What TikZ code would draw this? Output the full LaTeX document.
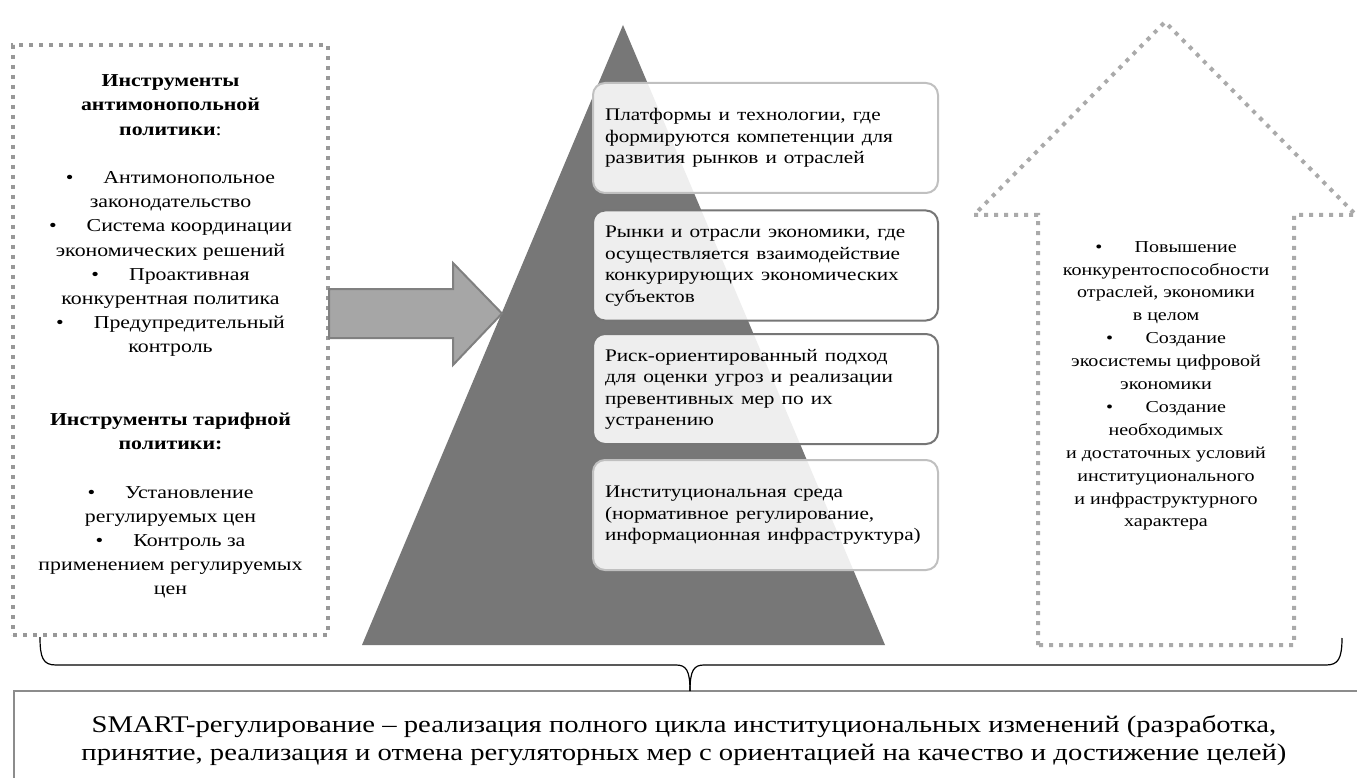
\documentclass[tikz,border=0pt]{standalone}
\usepackage{fontspec}
\usepackage{graphicx}
\setmainfont{Liberation Serif}
\definecolor{dotgray}{RGB}{152,152,152}
\definecolor{dotlight}{RGB}{170,170,170}
\definecolor{pyr}{RGB}{119,119,119}
\definecolor{arrfill}{RGB}{166,166,166}
\definecolor{arrdraw}{RGB}{128,128,128}
\definecolor{lightbd}{RGB}{192,192,192}
\definecolor{darkbd}{RGB}{118,118,118}
\definecolor{boxline}{RGB}{140,140,140}
\tikzset{
  dotline/.style={line width=4pt, dash pattern=on 4pt off 6pt},
  lbox/.style={draw=dotgray, dotline, minimum width=315pt, minimum height=590pt,
    inner sep=0pt},
  ltext/.style={inner sep=0pt, font=\fontsize{18.2}{24.2}\selectfont},
  pbox/.style={rounded corners=12pt, line width=2pt, fill=white, fill opacity=0.88,
    text opacity=1, minimum width=345pt, minimum height=110pt, text width=321pt,
    inner xsep=12pt, inner ysep=0pt, align=left,
    font=\fontsize{17.7}{21.5}\selectfont},
  rtext/.style={inner sep=0pt, font=\fontsize{16.7}{22.9}\selectfont},
  stext/.style={inner sep=0pt, font=\fontsize{23.9}{28}\selectfont},
  bigarrow/.style={fill=arrfill, draw=arrdraw, line width=2pt, line join=miter},
  bracestyle/.style={draw=black, line width=1.2pt}
}
\newcommand{\wc}[1]{\scalebox{1.2}[1]{\begin{tabular}{@{}c@{}}#1\end{tabular}}}
\newcommand{\wl}[1]{\scalebox{1.2}[1]{\begin{tabular}{@{}l@{}}#1\end{tabular}}}
\newcommand{\bul}[1][25pt]{\textbullet\hspace{#1}}
\begin{document}
\begin{tikzpicture}[x=1pt,y=-1pt]
\useasboundingbox (0,0) rectangle (1357,778);
\clip (0,0) rectangle (1357,778);
\fill[white] (0,0) rectangle (1357,778);

% pyramid
\coordinate (apex) at (623,25);
\coordinate (bl) at (362,645);
\coordinate (br) at (885,645);
\fill[pyr] (apex) -- (br) -- (bl) -- cycle;

% left box
\node[lbox] (lbox) at (170.5,340) {};
\node[ltext] (ltxt) at (170.5,336) {\wc{%
\textbf{Инструменты}\\
\textbf{антимонопольной}\\
\textbf{политики}:\\[24.2pt]
\bul Антимонопольное\\
законодательство\\
\bul Система координации\\
экономических решений\\
\bul Проактивная\\
конкурентная политика\\
\bul Предупредительный\\
контроль\\[48.4pt]
\textbf{Инструменты тарифной}\\
\textbf{политики:}\\[24.2pt]
\bul Установление\\
регулируемых цен\\
\bul Контроль за\\
применением регулируемых\\
цен}};

% block arrow from left box to pyramid
\draw[bigarrow] (329,289) -- (453,289) -- (453,263) -- (502,313.5)
  -- (453,365) -- (453,338) -- (329,338) -- cycle;

% pyramid boxes
\node[pbox, draw=lightbd] (b1) at (765.5,138) {\wl{Платформы и технологии, где\\формируются компетенции для\\развития рынков и отраслей}};
\node[pbox, draw=darkbd] (b2) at (765.5,265.5) {\wl{Рынки и отрасли экономики, где\\осуществляется взаимодействие\\конкурирующих экономических\\субъектов}};
\node[pbox, draw=darkbd] (b3) at (765.5,389) {\wl{Риск-ориентированный подход\\для оценки угроз и реализации\\превентивных мер по их\\устранению}};
\node[pbox, draw=lightbd] (b4) at (765.5,515) {\wl{Институциональная среда\\(нормативное регулирование,\\информационная инфраструктура)}};

% up arrow (dotted)
\draw[draw=dotlight, dotline] (1038,645) -- (1038,215) -- (974,215) -- (1165,22)
  -- (1356,215) -- (1294,215) -- (1294,645) -- cycle;
\node[rtext] (rtxt) at (1166,385) {\wc{%
\bul[27pt]Повышение\\
конкурентоспособности\\
отраслей, экономики\\
в целом\\
\bul[27pt]Создание\\
экосистемы цифровой\\
экономики\\
\bul[27pt]Создание\\
необходимых\\
и достаточных условий\\
институционального\\
и инфраструктурного\\
характера}};

% bottom box
\node[draw=boxline, line width=1.5pt, minimum width=1372pt, minimum height=110pt,
  inner sep=0pt] (sbox) at (700,746) {};
\node[stext] (stxt) at (684,741) {\wc{SMART-регулирование – реализация полного цикла институциональных изменений (разработка,\\
принятие, реализация и отмена регуляторных мер с ориентацией на качество и достижение целей)}};

% brace
\coordinate (brL) at (40,637);
\coordinate (brR) at (1342,638);
\coordinate (brT) at (690,691);
\draw[bracestyle] (brL) .. controls (40,658) and (43,665) .. (56,665) -- (676,665)
  .. controls (686,665) and (690,670) .. (brT);
\draw[bracestyle] (brT) .. controls (690,670) and (694,665) .. (704,665) -- (1326,665)
  .. controls (1338,665) and (1342,659) .. (brR);
\end{tikzpicture}
\end{document}
